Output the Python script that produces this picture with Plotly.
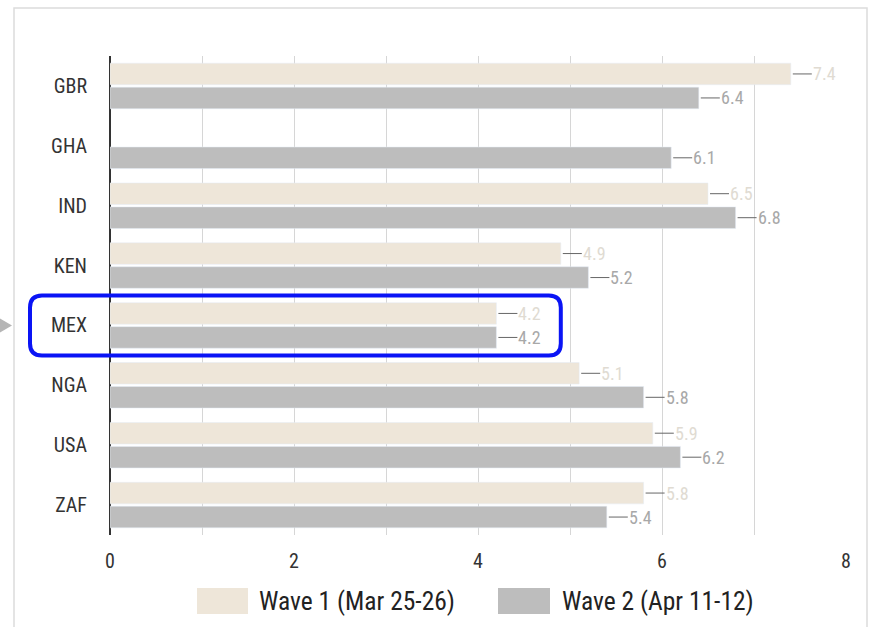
import plotly.graph_objects as go

countries = ["GBR", "GHA", "IND", "KEN", "MEX", "NGA", "USA", "ZAF"]
wave1 = [7.4, None, 6.5, 4.9, 4.2, 5.1, 5.9, 5.8]
wave2 = [6.4, 6.1, 6.8, 5.2, 4.2, 5.8, 6.2, 5.4]
series_names = ["Wave 1 (Mar 25-26)", "Wave 2 (Apr 11-12)"]
x_ticks = [0, 2, 4, 6, 8]
highlight = "MEX"

C1 = "#eee6d9"
C2 = "#bdbdbd"
FONT = "Roboto Condensed, Liberation Sans Narrow, DejaVu Sans Condensed, Roboto, sans-serif"

# plot-area geometry in pixels (for paper-coordinate decorations)
W, H = 872, 627
ML, MR, MT, MB = 110, 26, 56, 92
PW, PH = W - ML - MR, H - MT - MB


def px(xp):
    return (xp - ML) / PW


def py(yp):
    return (H - MB - yp) / PH


fig = go.Figure()
fig.add_trace(go.Bar(y=countries, x=wave1, orientation="h", name=series_names[0],
                     marker=dict(color=C1), showlegend=False))
fig.add_trace(go.Bar(y=countries, x=wave2, orientation="h", name=series_names[1],
                     marker=dict(color=C2), showlegend=False))

annotations = []
for series, shift, tcol in ((wave1, 12, "#e0dbd2"), (wave2, -12, "#a8a8a8")):
    for c, v in zip(countries, series):
        if v is None:
            continue
        annotations.append(dict(
            x=v, y=c, xref="x", yref="y", text=f"{v:.1f}",
            showarrow=True, arrowhead=0, arrowwidth=1, arrowcolor="#666666",
            ax=21, ay=0, axref="pixel", ayref="pixel", standoff=2,
            xanchor="left", yshift=shift, borderpad=0,
            font=dict(family=FONT, size=18, color=tcol),
        ))

# custom legend
shapes = []
leg = [(197, 248, 257, series_names[0], C1), (498, 550, 560, series_names[1], C2)]
for bx0, bx1, tx, name, col in leg:
    shapes.append(dict(type="rect", xref="paper", yref="paper",
                       x0=px(bx0), x1=px(bx1), y0=py(614), y1=py(588),
                       fillcolor=col, line=dict(width=0)))
    annotations.append(dict(x=px(tx), y=py(601), xref="paper", yref="paper",
                            text=name, showarrow=False, xanchor="left", yanchor="middle",
                            font=dict(family=FONT, size=25.5, color="#222")))

# outer border
shapes.append(dict(type="rect", xref="paper", yref="paper",
                   x0=px(14), x1=px(867), y0=py(660), y1=py(8),
                   line=dict(color="#dcdcdc", width=1.5), layer="below"))

# pointer triangle
idx = countries.index(highlight)
n = len(countries)
yc = 1 - (idx + 0.5) / n
yt = 1 - idx / n
yb = 1 - (idx + 1) / n
shapes.append(dict(type="path", xref="paper", yref="paper",
                   path=f"M {px(0)},{yc + 7 / PH} L {px(12)},{yc} L {px(0)},{yc - 7 / PH} Z",
                   fillcolor="#b5b5b5", line=dict(width=0)))

# highlight rounded rectangle
x0, x1 = px(30), (4.9 / 8)
rx, ry = 12 / PW, 12 / PH
path = (f"M {x0 + rx},{yt} L {x1 - rx},{yt} Q {x1},{yt} {x1},{yt - ry} "
        f"L {x1},{yb + ry} Q {x1},{yb} {x1 - rx},{yb} L {x0 + rx},{yb} "
        f"Q {x0},{yb} {x0},{yb + ry} L {x0},{yt - ry} Q {x0},{yt} {x0 + rx},{yt} Z")
shapes.append(dict(type="path", xref="paper", yref="paper", path=path,
                   line=dict(color="#0a14f5", width=4)))

fig.update_layout(
    width=W, height=H,
    margin=dict(l=ML, r=MR, t=MT, b=MB),
    paper_bgcolor="white", plot_bgcolor="white",
    barmode="group", bargap=0.2, bargroupgap=0.1,
    font=dict(family=FONT, color="#333"),
    xaxis=dict(range=[0, 8], tickvals=x_ticks, showgrid=True, gridcolor="#d6d6d6",
               gridwidth=1, minor=dict(dtick=1, showgrid=True, gridcolor="#d6d6d6"),
               zeroline=True, zerolinecolor="#333", zerolinewidth=2,
               showline=False, ticks="", ticklabelstandoff=12,
               tickfont=dict(family=FONT, size=20, color="#333")),
    yaxis=dict(autorange="reversed", showgrid=False, zeroline=False, showline=False,
               ticks="", ticklabelstandoff=22,
               tickfont=dict(family=FONT, size=20, color="#333")),
    annotations=annotations,
    shapes=shapes,
    showlegend=False,
)

fig.write_html("out.html", config={"displayModeBar": False},
               post_script="document.body.style.margin='0';")
